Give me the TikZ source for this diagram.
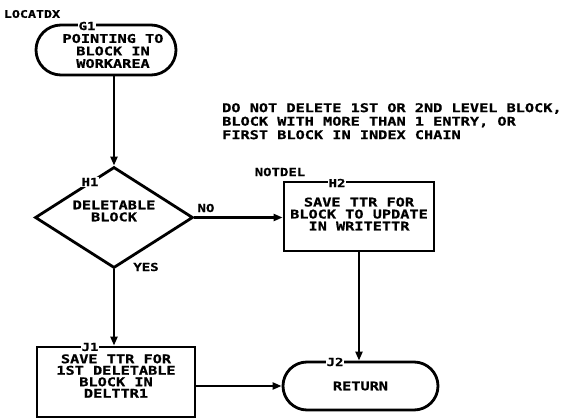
\documentclass[tikz,border=0pt]{standalone}
\usepackage{fontspec}
\newfontfamily\ibm{DejaVu Sans Mono Bold}[FakeStretch=1.27,FakeBold=0.8]
\usetikzlibrary{shapes.geometric,arrows.meta}
\begin{document}
\begin{tikzpicture}[x=1pt,y=-1pt,
  every node/.style={font=\ibm\fontsize{12}{12}\selectfont, text=black},
  box/.style={draw, line width=2.8pt, inner sep=0pt, align=center},
  term/.style={box},
  txt/.style={align=center, inner sep=0pt},
  lbl/.style={fill=white, inner sep=1pt, font=\ibm\fontsize{11}{11}\selectfont},
  plain/.style={inner sep=0pt, font=\ibm\fontsize{11}{11}\selectfont},
  conn/.style={line width=2.2pt, -{Triangle[length=9pt,width=7pt]}},
]
\useasboundingbox (0,0) rectangle (566,420);

% title
\node[plain, font=\ibm\fontsize{10.5}{10}\selectfont] (title) at (32,14) {LOCATDX};

% G1 terminal
\node[term, rounded corners=25pt, minimum width=140pt, minimum height=50pt] (G1) at (106,50) {};
\node[txt, font=\ibm\fontsize{12}{12.5}\selectfont] (G1t) at (113,51) {POINTING TO\\BLOCK IN\\WORKAREA};
\node[lbl] (G1l) at (87,26) {G1};

% comment
\node[anchor=north west, align=left, inner sep=0pt, font=\ibm\fontsize{12}{13.5}\selectfont] (C) at (222,103)
  {DO NOT DELETE 1ST OR 2ND LEVEL BLOCK,\\BLOCK WITH MORE THAN 1 ENTRY, OR\\FIRST BLOCK IN INDEX CHAIN};

% decision
\node[box, diamond, minimum width=158pt, minimum height=101pt] (D) at (114,217.5) {};
\node[txt, font=\ibm\fontsize{12}{12}\selectfont] (Dt) at (114,211) {DELETABLE\\BLOCK};
\node[lbl] (H1l) at (90,182) {H1};
\node[plain] (NO) at (206,208) {NO};
\node[plain] (YES) at (146,267) {YES};

% H2 process
\node[box, minimum width=150pt, minimum height=69pt] (H2) at (359,216.5) {};
\node[txt] (H2t) at (359,214) {SAVE TTR FOR\\BLOCK TO UPDATE\\IN WRITETTR};
\node[lbl] (H2l) at (337,183) {H2};
\node[plain] (ND) at (280,172) {NOTDEL};

% J1 process
\node[box, minimum width=158pt, minimum height=70pt] (J1) at (116,382) {};
\node[txt, font=\ibm\fontsize{12}{11.5}\selectfont] (J1t) at (116,376) {SAVE TTR FOR\\1ST DELETABLE\\BLOCK IN\\DELTTR1};
\node[lbl] (J1l) at (90,347) {J1};

% J2 terminal
\node[term, rounded corners=24pt, minimum width=155pt, minimum height=48pt] (J2) at (360.5,386) {RETURN};
\node[lbl] (J2l) at (335,362) {J2};

% connectors
\draw[conn] (G1.south -| D.north) -- (D.north);
\draw[conn] (D.east) -- (D.east -| H2.west);
\draw[conn] (D.south) -- (D.south |- J1.north);
\draw[conn] (H2.south) -- (H2.south |- J2.north);
\draw[conn] (J2.west -| J1.east) -- (J2.west);
\end{tikzpicture}
\end{document}
